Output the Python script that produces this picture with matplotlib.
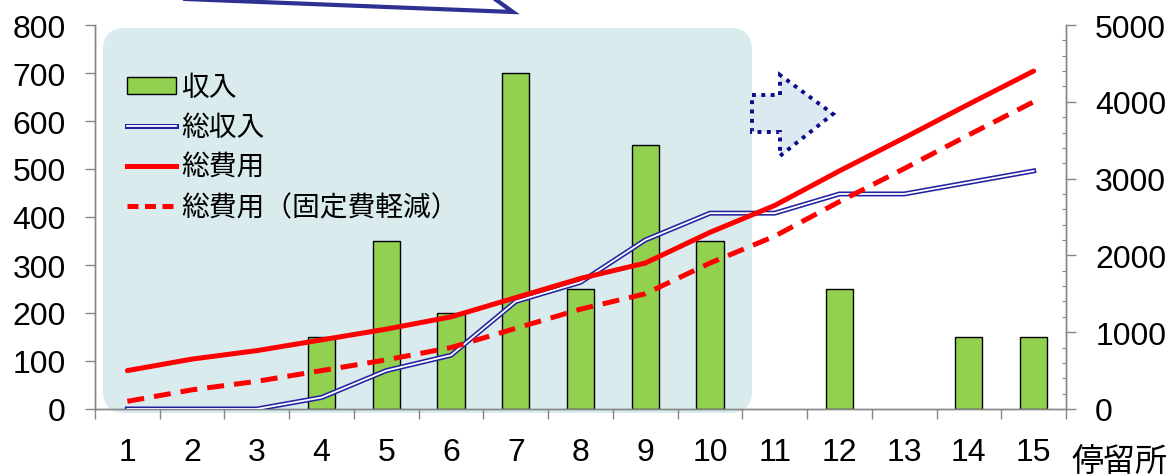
import matplotlib
matplotlib.use("Agg")
import matplotlib.pyplot as plt
from matplotlib.patches import FancyBboxPatch, Polygon, Patch
from matplotlib.lines import Line2D
from matplotlib.ticker import MultipleLocator, FixedLocator

# ---- data ----
stops = list(range(1, 16))
stop_labels = [str(s) for s in stops]
income = [0, 0, 0, 150, 350, 200, 700, 250, 550, 350, 0, 250, 0, 150, 150]
total_income = [0, 0, 0, 150, 500, 700, 1400, 1650, 2200, 2550, 2550, 2800, 2800, 2950, 3100]
total_cost = [500, 650, 760, 900, 1040, 1200, 1450, 1700, 1900, 2300, 2650, 3100, 3530, 3970, 4400]
total_cost_reduced = [100, 250, 360, 500, 640, 800, 1050, 1300, 1500, 1900, 2250, 2700, 3130, 3570, 4000]
legend_labels = ["収入", "総収入", "総費用", "総費用（固定費軽減）"]
x_title = "停留所"

plt.rcParams["font.family"] = ["Liberation Sans", "Noto Sans CJK JP", "DejaVu Sans"]
CJK = ["Noto Sans CJK JP", "DejaVu Sans"]

W, H, DPI = 1173, 477, 100
fig = plt.figure(figsize=(W / DPI, H / DPI), dpi=DPI)


def inch(x, y):
    """pixel position (from top-left) -> inches from bottom-left"""
    return x / DPI, (H - y) / DPI


def fx(x):
    return x / W


def fy(y):
    return 1 - y / H


GRAY = "#868686"
GREEN = "#92D050"
BLUE = "#2323A0"
RED = "#FF0000"

# ---- shaded panel behind the first ten stops ----
x0, y0 = inch(103, 414)
x1, y1 = inch(752, 29)
panel = FancyBboxPatch((x0, y0), x1 - x0, y1 - y0,
                       boxstyle="round,pad=0,rounding_size=0.22",
                       transform=fig.dpi_scale_trans,
                       facecolor="#DAEBEE", edgecolor="none", zorder=-2)
fig.add_artist(panel)

# ---- dotted arrow pointing right ----
arrow_px = [(752, 96), (780, 96), (780, 76), (833, 115),
            (780, 157), (780, 133), (752, 133)]
arrow = Polygon([inch(*p) for p in arrow_px], closed=True,
                transform=fig.dpi_scale_trans,
                facecolor="#DDE9F0", edgecolor="#0A0A8C",
                linewidth=2.8, linestyle=(0, (1, 1.4)), zorder=-1)
fig.add_artist(arrow)

# ---- callout stroke at the top ----
callout_px = [(160, -1), (513, 13), (488, -5)]
cx = [inch(*p)[0] for p in callout_px]
cy = [inch(*p)[1] for p in callout_px]
fig.add_artist(Line2D(cx, cy, transform=fig.dpi_scale_trans,
                      color="#2E3092", linewidth=3.0,
                      solid_joinstyle="miter", zorder=5))

# ---- axes ----
ax = fig.add_axes([fx(95), fy(410), (1066 - 95) / W, (410 - 26) / H])
ax.set_facecolor("none")
ax2 = ax.twinx()
ax2.set_facecolor("none")

bar_x = [s for s, v in zip(stops, income) if v > 0]
bar_h = [v for v in income if v > 0]
ax.bar(bar_x, bar_h, width=0.42, color=GREEN, edgecolor="black",
       linewidth=1.0, zorder=2)

ax2.plot(stops, total_income, color=BLUE, linewidth=3.6,
         solid_joinstyle="round", zorder=3)
ax2.plot(stops, total_income, color="white", linewidth=1.3,
         solid_joinstyle="round", zorder=4)
ax2.plot(stops, total_cost, color=RED, linewidth=3.6,
         solid_capstyle="round", solid_joinstyle="round", zorder=5)
ax2.plot(stops, total_cost_reduced, color=RED, linewidth=3.6,
         dashes=(3.4, 2.0), zorder=5)

ax.set_xlim(0.5, 15.5)
ax.set_ylim(0, 800)
ax2.set_ylim(0, 5000)

for a in (ax, ax2):
    for side in ("left", "right", "bottom"):
        a.spines[side].set_color(GRAY)
        a.spines[side].set_linewidth(1.0)
    a.spines["top"].set_visible(False)

ax.set_xticks(stops)
ax.set_xticklabels(stop_labels)
ax.xaxis.set_minor_locator(FixedLocator([s + 0.5 for s in range(0, 16)]))
ax.tick_params(axis="x", which="major", length=0, labelsize=23, pad=20)
ax.tick_params(axis="x", which="minor", length=7, width=1.0,
               color=GRAY, direction="out")

ax.yaxis.set_major_locator(MultipleLocator(100))
ax.tick_params(axis="y", which="major", length=7, width=1.0, color=GRAY,
               direction="out", labelsize=23, pad=14)

ax2.yaxis.set_major_locator(MultipleLocator(1000))
ax2.yaxis.set_minor_locator(MultipleLocator(200))
ax2.tick_params(axis="y", which="major", length=7, width=1.0, color=GRAY,
                direction="out", labelsize=23, pad=14)
ax2.tick_params(axis="y", which="minor", length=3, width=0.8, color=GRAY,
                direction="in")

# ---- legend ----
h_bar = Patch(facecolor=GREEN, edgecolor="black", linewidth=1.0)
h_inc = (Line2D([], [], color=BLUE, linewidth=3.6),
         Line2D([], [], color="white", linewidth=1.3))
h_cost = Line2D([], [], color=RED, linewidth=3.6)
h_red = Line2D([], [], color=RED, linewidth=3.6, dashes=(2.2, 1.3))
leg = ax2.legend([h_bar, h_inc, h_cost, h_red], legend_labels,
                 loc="upper left", bbox_to_anchor=(fx(127), fy(73)),
                 bbox_transform=fig.transFigure, frameon=False,
                 prop={"family": CJK, "size": 20},
                 handlelength=1.75, handleheight=0.55,
                 handletextpad=0.2, labelspacing=0.36, borderpad=0,
                 borderaxespad=0)

fig.text(fx(1119), fy(463), x_title, ha="center", va="center",
         fontsize=23, family=CJK)

fig.savefig("out.png", dpi=DPI)
